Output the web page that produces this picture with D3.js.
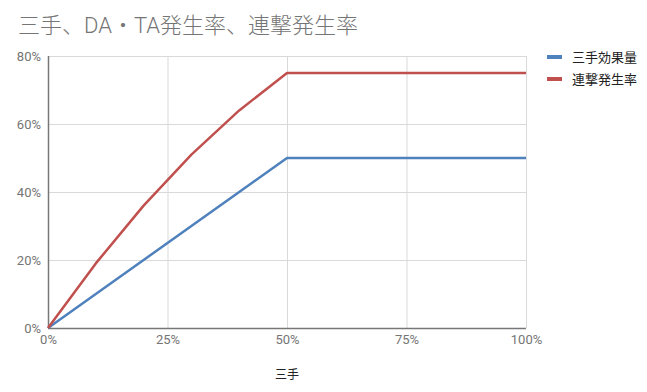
<!DOCTYPE html>
<html>
<head>
<meta charset="utf-8">
<script src="https://cdn.jsdelivr.net/npm/d3@7"></script>
<style>
  body { margin: 0; background: #fff; }
  svg { display: block; font-family: Roboto, "Noto Sans CJK JP", sans-serif; }
</style>
</head>
<body>
<div id="chart"></div>
<script>
// 三手 (x) in percent
const sante = [0, 10, 20, 30, 40, 50, 60, 70, 80, 90, 100];
// series values in percent
const kouka = [0, 10, 20, 30, 40, 50, 50, 50, 50, 50, 50];
const rengeki = [0, 19, 36, 51, 64, 75, 75, 75, 75, 75, 75];
const seriesNames = ["三手効果量", "連撃発生率"];
const seriesColors = ["#4f81bd", "#c0504d"];
const xTicks = [0, 25, 50, 75, 100];
const yTicks = [0, 20, 40, 60, 80];

const width = 647, height = 392;
const margin = { top: 56, right: 121, bottom: 64, left: 48 };

var svg = d3.select("#chart").append("svg")
  .attr("width", width)
  .attr("height", height);

var x = d3.scaleLinear().domain([0, 100]).range([margin.left, width - margin.right]);
var y = d3.scaleLinear().domain([0, 80]).range([height - margin.bottom, margin.top]);

// title
svg.append("text")
  .attr("x", 18)
  .attr("y", 33)
  .attr("fill", "#757575")
  .attr("font-size", 22)
  .attr("font-weight", 300)
  .text("三手、DA・TA発生率、連撃発生率");

// grid
svg.append("g").selectAll("line")
  .data(yTicks.slice(1))
  .enter().append("line")
  .attr("x1", x(0)).attr("x2", x(100))
  .attr("y1", d => y(d) + 0.5).attr("y2", d => y(d) + 0.5)
  .attr("stroke", "#d9d9d9");

svg.append("g").selectAll("line")
  .data(xTicks.slice(1))
  .enter().append("line")
  .attr("x1", d => x(d) + 0.5).attr("x2", d => x(d) + 0.5)
  .attr("y1", y(0)).attr("y2", y(80))
  .attr("stroke", "#d9d9d9");

// axes
var yAxis = svg.append("g")
  .attr("transform", "translate(" + x(0) + ",0)")
  .call(d3.axisLeft(y).tickValues(yTicks).tickSize(0).tickPadding(7).tickFormat(d => d + "%"));
var xAxis = svg.append("g")
  .attr("transform", "translate(0," + y(0) + ")")
  .call(d3.axisBottom(x).tickValues(xTicks).tickSize(0).tickPadding(7).tickFormat(d => d + "%"));

[yAxis, xAxis].forEach(function(a) {
  a.select(".domain").remove();
  a.selectAll("text")
    .attr("fill", "#757575")
    .attr("font-size", 13)
    .attr("font-family", "Roboto, sans-serif");
});

svg.append("line")
  .attr("x1", x(0) + 0.5).attr("x2", x(0) + 0.5)
  .attr("y1", y(80)).attr("y2", y(0))
  .attr("stroke", "#777").attr("stroke-width", 1.5);
svg.append("line")
  .attr("x1", x(0)).attr("x2", x(100))
  .attr("y1", y(0) + 0.5).attr("y2", y(0) + 0.5)
  .attr("stroke", "#777").attr("stroke-width", 1.5);

// axis title
svg.append("text")
  .attr("x", x(50))
  .attr("y", 379)
  .attr("text-anchor", "middle")
  .attr("fill", "#222")
  .attr("font-size", 12)
  .text("三手");

// lines
var line = d3.line()
  .x((d, i) => x(sante[i]))
  .y(d => y(d));

[kouka, rengeki].forEach(function(vals, k) {
  svg.append("path")
    .datum(vals)
    .attr("d", line)
    .attr("fill", "none")
    .attr("stroke", seriesColors[k])
    .attr("stroke-width", 2.5)
    .attr("stroke-linejoin", "round");
});

// legend
var legend = svg.append("g").selectAll("g")
  .data(seriesNames)
  .enter().append("g")
  .attr("transform", (d, i) => "translate(547," + (57 + i * 22) + ")");

legend.append("rect")
  .attr("x", 0).attr("y", -2)
  .attr("width", 15).attr("height", 4)
  .attr("fill", (d, i) => seriesColors[i]);

legend.append("text")
  .attr("x", 25)
  .attr("y", 5)
  .attr("fill", "#222")
  .attr("font-size", 13)
  .text(d => d);
</script>
</body>
</html>
